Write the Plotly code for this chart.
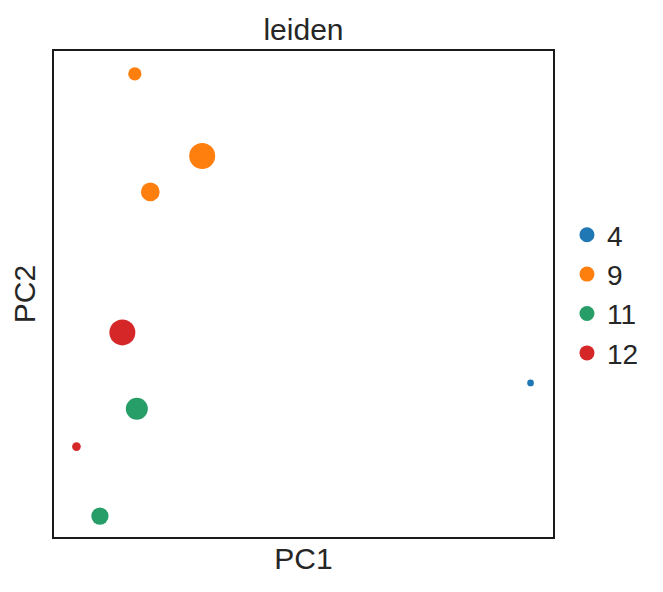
import plotly.graph_objects as go

categories = ["4", "9", "11", "12"]
colors = ["#1f77b4", "#ff7f0e", "#279e68", "#d62728"]

pc1 = {
    "4": [95.5],
    "9": [16.2, 29.7, 19.3],
    "11": [16.6, 9.2],
    "12": [13.7, 4.5],
}
pc2 = {
    "4": [31.7],
    "9": [95.3, 78.4, 71.0],
    "11": [26.4, 4.3],
    "12": [42.1, 18.6],
}
point_size = {
    "4": [6.7],
    "9": [13.3, 26, 18.7],
    "11": [22, 17.3],
    "12": [26, 8.7],
}

FONT = "Liberation Sans, Arial, sans-serif"
TXT = "#262626"

fig = go.Figure()
for cat, col in zip(categories, colors):
    fig.add_trace(go.Scatter(
        x=pc1[cat], y=pc2[cat], mode="markers",
        marker=dict(color=col, size=point_size[cat], opacity=1, line=dict(width=0)),
        showlegend=False, hoverinfo="skip",
    ))
for cat, col in zip(categories, colors):
    fig.add_trace(go.Scatter(
        x=[None], y=[None], mode="markers", name=cat,
        marker=dict(color=col, size=15, opacity=1, line=dict(width=0)),
        showlegend=True,
    ))

fig.update_layout(
    width=663, height=592,
    margin=dict(l=54, r=110, t=51, b=55),
    plot_bgcolor="white", paper_bgcolor="white",
    font=dict(family=FONT, color=TXT),
    title=dict(text="leiden", x=0.5, xref="paper", xanchor="center",
               y=1 - 29 / 592, yanchor="middle", yref="container",
               font=dict(size=30, color=TXT, family=FONT)),
    legend=dict(x=1.028, xanchor="left", y=0.5, yanchor="middle",
                font=dict(size=28, color=TXT, family=FONT),
                itemsizing="trace", bgcolor="rgba(0,0,0,0)",
                tracegroupgap=0),
    xaxis=dict(range=[0, 100], showticklabels=False, ticks="", showgrid=False,
               zeroline=False, showline=True, linecolor="#1a1a1a", linewidth=1.5,
               mirror=True, title=dict(text="PC1", standoff=10,
                                       font=dict(size=30, color=TXT, family=FONT))),
    yaxis=dict(range=[0, 100], showticklabels=False, ticks="", showgrid=False,
               zeroline=False, showline=True, linecolor="#1a1a1a", linewidth=1.5,
               mirror=True, title=dict(text="PC2", standoff=8,
                                       font=dict(size=30, color=TXT, family=FONT))),
)

fig.write_html("out.html")
